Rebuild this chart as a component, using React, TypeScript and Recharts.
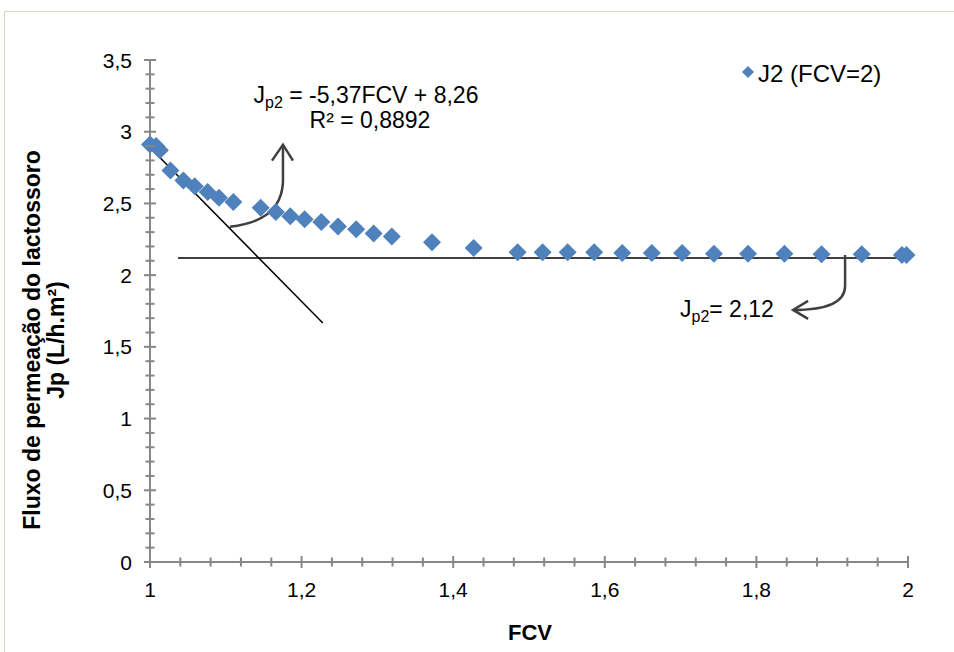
import React from "react";
import {
  ScatterChart,
  Scatter,
  XAxis,
  YAxis,
  ReferenceLine,
  ReferenceDot,
} from "recharts";

// FCV (x) and permeate flux J2 (y)
const fcv = [
  1.0, 1.008, 1.013, 1.027, 1.044, 1.059, 1.076, 1.091, 1.11, 1.146, 1.166, 1.185,
  1.204, 1.226, 1.248, 1.272, 1.295, 1.319, 1.372, 1.427, 1.485, 1.518, 1.551, 1.586,
  1.623, 1.662, 1.702, 1.744, 1.789, 1.837, 1.886, 1.939, 1.992, 1.998,
];
const jp2 = [
  2.91, 2.9, 2.87, 2.73, 2.66, 2.62, 2.58, 2.54, 2.51, 2.47, 2.44, 2.41,
  2.39, 2.37, 2.34, 2.32, 2.29, 2.27, 2.23, 2.19, 2.16, 2.16, 2.16, 2.16,
  2.155, 2.155, 2.155, 2.15, 2.15, 2.15, 2.145, 2.145, 2.14, 2.14,
];

// fitted lines as drawn
const trendLine = [
  { x: 1.0, y: 2.89 },
  { x: 1.228, y: 1.666 },
];
const plateauLine = [
  { x: 1.037, y: 2.12 },
  { x: 2.0, y: 2.12 },
];

const xMajor = [1, 1.2, 1.4, 1.6, 1.8, 2];
const yMajor = [0, 0.5, 1, 1.5, 2, 2.5, 3, 3.5];

const stepTicks = (from: number, to: number, step: number) => {
  const out: number[] = [];
  for (let i = 0; from + i * step <= to + 1e-9; i++) out.push(Number((from + i * step).toFixed(3)));
  return out;
};
const xTicks = stepTicks(1, 2, 0.04);
const yTicks = stepTicks(0, 3.5, 0.1);

const data = fcv.map((x, i) => ({ x, y: jp2[i] }));

const BLUE = "#4F81BD";
const AXIS = "#878787";
const FONT = "'Liberation Sans', Arial, sans-serif";
const fmt = (v: number) => String(v).replace(".", ",");
const isMajor = (v: number, list: number[]) => list.some((m) => Math.abs(m - v) < 1e-6);

const Diamond = (props: any) => {
  const { cx, cy } = props;
  const r = 9;
  return <path d={`M${cx},${cy - r}L${cx + r},${cy}L${cx},${cy + r}L${cx - r},${cy}Z`} fill={BLUE} />;
};

const XTick = (props: any) => {
  const { x, y, payload } = props;
  const major = isMajor(payload.value, xMajor);
  const h = major ? 6 : 4.5;
  return (
    <g>
      <line x1={x} x2={x} y1={y - h} y2={y + h} stroke={AXIS} strokeWidth={2} />
      {major && (
        <text x={x} y={y + 27} textAnchor="middle" dominantBaseline="central" fontSize={21} fill="#000" fontFamily={FONT}>
          {fmt(payload.value)}
        </text>
      )}
    </g>
  );
};

const YTick = (props: any) => {
  const { x, y, payload } = props;
  const major = isMajor(payload.value, yMajor);
  const w = major ? 6 : 4.5;
  return (
    <g>
      <line x1={x - w} x2={x + w} y1={y} y2={y} stroke={AXIS} strokeWidth={2} />
      {major && (
        <text x={x - 18} y={y} textAnchor="end" dominantBaseline="central" fontSize={21} fill="#000" fontFamily={FONT}>
          {fmt(payload.value)}
        </text>
      )}
    </g>
  );
};

const ArrowUp = (props: any) => {
  const { cx, cy } = props;
  return (
    <g transform={`translate(${cx},${cy})`} fill="none" stroke="#404040" strokeWidth={2.5}>
      <path d="M0,0 C30,-3 52,-16 53,-45 L53,-82" />
      <path d="M42,-66 L53,-82 L63,-66" />
    </g>
  );
};

const ArrowLeft = (props: any) => {
  const { cx, cy } = props;
  return (
    <g transform={`translate(${cx},${cy})`} fill="none" stroke="#404040" strokeWidth={2.5}>
      <path d="M0,-3 L0,28 C0,46 -22,52 -52,52" />
      <path d="M-37,43 L-52,52 L-37,61" />
    </g>
  );
};

export default function App() {
  return (
    <div style={{ position: "absolute", left: 0, top: 0, width: 954, height: 652, overflow: "hidden", background: "#fff" }}>
      <div
        style={{
          position: "absolute",
          left: 4,
          top: 11,
          width: 980,
          height: 700,
          border: "1px solid #d8d4c4",
        }}
      />
      <ScatterChart width={954} height={652} margin={{ top: 60, right: 46, bottom: 0, left: 0 }} style={{ position: "absolute", left: 0, top: 0 }}>
        <XAxis
          type="number"
          dataKey="x"
          domain={[1, 2]}
          ticks={xTicks}
          interval={0}
          tickSize={0}
          tickMargin={0}
          tick={<XTick />}
          height={90}
          stroke={AXIS}
          strokeWidth={2}
        />
        <YAxis
          type="number"
          dataKey="y"
          domain={[0, 3.5]}
          ticks={yTicks}
          interval={0}
          tickSize={0}
          tickMargin={0}
          tick={<YTick />}
          width={150}
          stroke={AXIS}
          strokeWidth={2}
        />
        <ReferenceLine segment={trendLine} stroke="#000" strokeWidth={1.5} />
        <ReferenceLine segment={plateauLine} stroke="#000" strokeWidth={1.5} />
        <ReferenceDot x={1.1055} y={2.338} r={0} shape={<ArrowUp />} />
        <ReferenceDot x={1.917} y={2.12} r={0} shape={<ArrowLeft />} />
        <Scatter data={data} shape={<Diamond />} isAnimationActive={false} name="J2 (FCV=2)" />
      </ScatterChart>
      <svg width={954} height={652} style={{ position: "absolute", left: 0, top: 0, pointerEvents: "none" }} fontFamily={FONT}>
        {/* legend */}
        <path d="M748,66 L754,72 L748,78 L742,72Z" fill={BLUE} />
        <text x={758} y={82} fontSize={24} fill="#000">
          J2 (FCV=2)
        </text>
        <text x={366} y={103} textAnchor="middle" fontSize={23} fill="#000">
          J<tspan fontSize={16} dy={5}>p2</tspan>
          <tspan dy={-5}> = -5,37FCV + 8,26</tspan>
        </text>
        <text x={370} y={128} textAnchor="middle" fontSize={23} fill="#000">
          R² = 0,8892
        </text>
        <text x={680} y={317} fontSize={23} fill="#000">
          J<tspan fontSize={16} dy={5}>p2</tspan>
          <tspan dy={-5}>= 2,12</tspan>
        </text>
        <text x={530} y={640} textAnchor="middle" fontSize={22} fontWeight="bold" fill="#000">
          FCV
        </text>
        <g transform="translate(0,340) rotate(-90)">
          <text x={0} y={40} textAnchor="middle" fontSize={23} fontWeight="bold" fill="#000">
            Fluxo de permeação do lactossoro
          </text>
          <text x={0} y={64} textAnchor="middle" fontSize={23} fontWeight="bold" fill="#000">
            Jp (L/h.m²)
          </text>
        </g>
      </svg>
    </div>
  );
}
